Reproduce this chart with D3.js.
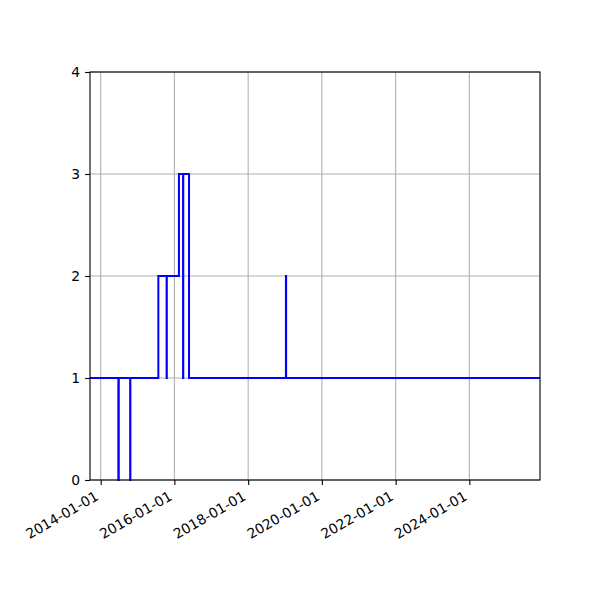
<!DOCTYPE html>
<html>
<head>
<meta charset="utf-8">
<script src="https://cdn.jsdelivr.net/npm/d3@7"></script>
<style>
	body { margin: 0; background: #fff; }
	svg { display: block; font-family: "DejaVu Sans", sans-serif; }
</style>
</head>
<body>
<div class="chart"></div>
<script>
// step series (value holds until next date)
const dates = ['2013-09-17', '2014-06-25', '2014-06-29', '2014-10-20', '2014-10-22',
	'2015-07-26', '2015-10-16', '2015-10-18', '2016-02-15', '2016-03-27', '2016-03-29',
	'2016-05-25', '2019-01-10', '2019-01-12', '2025-12-01']
const values = [1, 0, 1, 0, 1, 2, 1, 2, 3, 1, 3, 1, 2, 1, 1]
const xTicks = ['2014-01-01', '2016-01-01', '2018-01-01', '2020-01-01', '2022-01-01', '2024-01-01']
const yTicks = [0, 1, 2, 3, 4]
const xDomain = ['2013-09-17', '2025-12-01']

const parse = d3.utcParse('%Y-%m-%d')
const data = dates.map((d, i) => ({ date: parse(d), value: values[i] }))

const width = 600
const height = 600
const margin = { top: 72, right: 60, bottom: 120, left: 90 }

const svg = d3.select('.chart')
	.append('svg')
	.attr('width', width)
	.attr('height', height)
	.attr('viewBox', [0, 0, width, height])

const x = d3.scaleUtc()
	.domain(xDomain.map(parse))
	.range([margin.left, width - margin.right])

const y = d3.scaleLinear()
	.domain([0, 4])
	.range([height - margin.bottom, margin.top])

// grid
svg.append('g')
	.selectAll('line')
	.data(xTicks.map(parse))
	.enter()
	.append('line')
	.attr('x1', d => x(d))
	.attr('x2', d => x(d))
	.attr('y1', margin.top)
	.attr('y2', height - margin.bottom)
	.attr('stroke', '#b0b0b0')
	.attr('stroke-width', 1.1)

svg.append('g')
	.selectAll('line')
	.data(yTicks)
	.enter()
	.append('line')
	.attr('x1', margin.left)
	.attr('x2', width - margin.right)
	.attr('y1', d => y(d))
	.attr('y2', d => y(d))
	.attr('stroke', '#b0b0b0')
	.attr('stroke-width', 1.1)

// step line
const line = d3.line()
	.x(d => x(d.date))
	.y(d => y(d.value))
	.curve(d3.curveStepAfter)

svg.append('path')
	.datum(data)
	.attr('d', line)
	.attr('fill', 'none')
	.attr('stroke', '#0000ff')
	.attr('stroke-width', 2)

// frame
svg.append('rect')
	.attr('x', margin.left)
	.attr('y', margin.top)
	.attr('width', width - margin.left - margin.right)
	.attr('height', height - margin.top - margin.bottom)
	.attr('fill', 'none')
	.attr('stroke', '#000')
	.attr('stroke-width', 1.1)

// x axis, labels rotated 30deg and right aligned at the tick
const xAxis = svg.append('g')
	.attr('transform', `translate(0,${height - margin.bottom})`)
	.call(d3.axisBottom(x)
		.tickValues(xTicks.map(parse))
		.tickFormat(d3.utcFormat('%Y-%m-%d'))
		.tickSize(4.9)
		.tickPadding(4.9))
xAxis.select('.domain').remove()
xAxis.selectAll('line').attr('stroke-width', 1.1)
xAxis.selectAll('text')
	.attr('font-size', '13.9px')
	.attr('font-family', '"DejaVu Sans", sans-serif')
	.attr('fill', '#000')
	.attr('text-anchor', 'end')
	.attr('x', 0)
	.attr('y', 0)
	.attr('dy', 0)
	.attr('transform', 'translate(-1.8,19) rotate(-30)')

// y axis
const yAxis = svg.append('g')
	.attr('transform', `translate(${margin.left},0)`)
	.call(d3.axisLeft(y)
		.tickValues(yTicks)
		.tickFormat(d3.format('d'))
		.tickSize(4.9)
		.tickPadding(4.9))
yAxis.select('.domain').remove()
yAxis.selectAll('line').attr('stroke-width', 1.1)
yAxis.selectAll('text')
	.attr('font-size', '13.9px')
	.attr('font-family', '"DejaVu Sans", sans-serif')
	.attr('fill', '#000')
</script>
</body>
</html>
